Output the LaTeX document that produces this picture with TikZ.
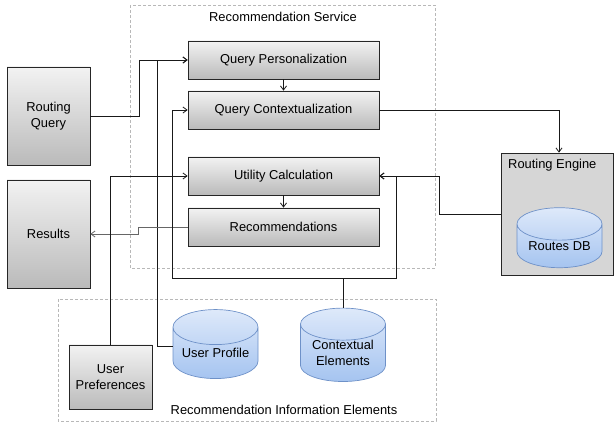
\documentclass[tikz,border=0pt]{standalone}
\usepackage{fontspec}
\setmainfont{Liberation Sans}
\usetikzlibrary{shapes.geometric,arrows.meta}

\begin{document}
\begin{tikzpicture}[x=1pt,y=-1pt,
    font=\fontsize{12.9}{15.5}\selectfont,
    grpbox/.style={draw=black!28,dash pattern=on 3pt off 2pt,line width=0.7pt},
    procbox/.style={draw=black!85,line width=0.8pt,top color=black!5,bottom color=black!27,align=center,inner sep=0pt},
    dbcyl/.style={cylinder,shape border rotate=90,aspect=0.52,draw={rgb,255:red,110;green,145;blue,200},line width=0.7pt,
        top color={rgb,255:red,222;green,233;blue,250},bottom color={rgb,255:red,165;green,196;blue,240},align=center,inner sep=0pt},
    conn/.style={draw=black!90,line width=0.8pt,-{Straight Barb[length=4pt,width=6pt]}},
    ]
    \useasboundingbox (0,0) rectangle (614,427);
    \draw [grpbox] (130,5) rectangle (435,268);
    \draw [grpbox] (58,299) rectangle (436,421);
    \node (svclbl) at (283,17) {Recommendation Service};
    \node (infolbl) at (284,410) {Recommendation Information Elements};

    \node [procbox,minimum width=83,minimum height=98] (query) at (48.5,116) {Routing\\Query};
    \node [procbox,minimum width=83,minimum height=108] (results) at (48.5,234) {Results};
    \node [procbox,minimum width=191,minimum height=38] (qpers) at (283.5,60) {Query Personalization};
    \node [procbox,minimum width=191,minimum height=38] (qctx) at (283.5,110) {Query Contextualization};
    \node [procbox,minimum width=191,minimum height=38] (util) at (283.5,176) {Utility Calculation};
    \node [procbox,minimum width=191,minimum height=38] (recs) at (283.5,227) {Recommendations};
    \node [procbox,minimum width=83,minimum height=64] (prefs) at (110.5,377) {User\\Preferences};

    \node [draw=black!85,line width=0.8pt,fill=black!16,minimum width=112,minimum height=122] (engine) at (557,214) {};
    \node [anchor=west,inner sep=0pt] (englbl) at (508,165) {Routing Engine};
    \node [dbcyl,minimum width=85,minimum height=60] (routesdb) at (559.5,246) {Routes DB};
    \node [dbcyl,minimum width=85,minimum height=69] (profile) at (215.5,353) {User Profile};
    \node [dbcyl,minimum width=85,minimum height=69] (context) at (343,353) {Contextual\\Elements};

    \draw [conn] (query.east) -- ++(49,0) |- (qpers.west);
    \draw [conn] ([yshift=7]profile.west) -- ++(-15,0) |- (qpers.west);
    \draw [conn] (qpers) -- (qctx);
    \draw [conn] (qctx.east) -| ([xshift=2]engine.north);
    \draw [conn] (util) -- (recs);
    \draw [conn] (engine.west) -- ++(-61,0) |- (util.east);
    \draw [conn,draw=black!60] (recs.west) -- ++(-49,0) |- (results.east);
    \draw [conn] (prefs.north) |- (util.west);
    \draw [conn] (context.north) |- (172,278) |- (qctx.west);
    \draw [conn] (context.north) |- (396,278) |- (util.east);
\end{tikzpicture}
\end{document}
